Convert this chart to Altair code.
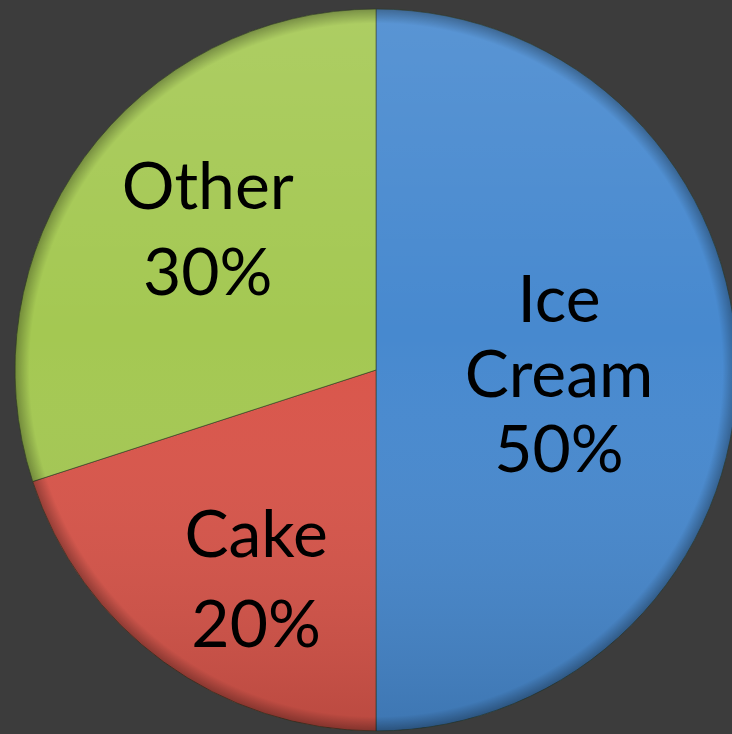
import altair as alt
import pandas as pd

categories = ["Ice Cream", "Cake", "Other"]
values = [50, 20, 30]
colors = ["#4789cf", "#d9554a", "#a4c852"]

df = pd.DataFrame({"cat": categories, "value": values, "idx": list(range(len(categories)))})

CX, CY, R = 376, 370, 361

base = alt.Chart(df).transform_calculate(
    label="datum.cat + ' ' + datum.value + '%'"
)

theta = alt.Theta("value:Q", stack=True)
order = alt.Order("idx:Q")
cx = alt.value(CX)
cy = alt.value(CY)

pie = base.mark_arc(outerRadius=R, stroke="#2b3a22", strokeWidth=1, strokeOpacity=0.6).encode(
    theta=theta,
    order=order,
    x=cx,
    y=cy,
    color=alt.Color("cat:N", scale=alt.Scale(domain=categories, range=colors), legend=None),
)

one = base.transform_filter(alt.datum.idx == 0)
full = dict(theta=alt.value(0), theta2=alt.value(6.28318), x=cx, y=cy)

shade = one.mark_arc(
    outerRadius=R,
    fill=alt.LinearGradient(
        gradient="linear", x1=0, y1=0, x2=0, y2=1,
        stops=[
            alt.GradientStop(offset=0, color="rgba(255,255,255,0.10)"),
            alt.GradientStop(offset=0.45, color="rgba(255,255,255,0.0)"),
            alt.GradientStop(offset=1, color="rgba(0,0,0,0.14)"),
        ],
    ),
).encode(**full)

rim = one.mark_arc(
    outerRadius=R,
    fill=alt.RadialGradient(
        gradient="radial", x1=0.5, y1=0.5, r1=0, x2=0.5, y2=0.5, r2=0.5,
        stops=[
            alt.GradientStop(offset=0, color="rgba(0,0,0,0)"),
            alt.GradientStop(offset=0.96, color="rgba(0,0,0,0)"),
            alt.GradientStop(offset=1, color="rgba(0,0,0,0.30)"),
        ],
    ),
).encode(**full)

def label_layer(name, radius, dy, line_height):
    return base.mark_text(
        radius=radius, dy=dy, fontSize=66, font="Lato", color="black",
        lineBreak=" ", lineHeight=line_height, baseline="middle", align="center",
    ).encode(
        theta=theta,
        order=order,
        x=cx,
        y=cy,
        text=alt.condition(alt.datum.cat == name, "label:N", alt.value("")),
    )

labels = [
    label_layer("Ice Cream", 183, -68, 75),
    label_layer("Other", 208, -59, 86),
    label_layer("Cake", 204, 2, 90),
]

chart = alt.layer(pie, shade, rim, *labels).properties(
    width=732, height=734, autosize="none", padding=0, background="#3c3c3c"
).configure_view(stroke=None)

chart.save("out.html", embed_options={"renderer": "svg", "actions": False})
